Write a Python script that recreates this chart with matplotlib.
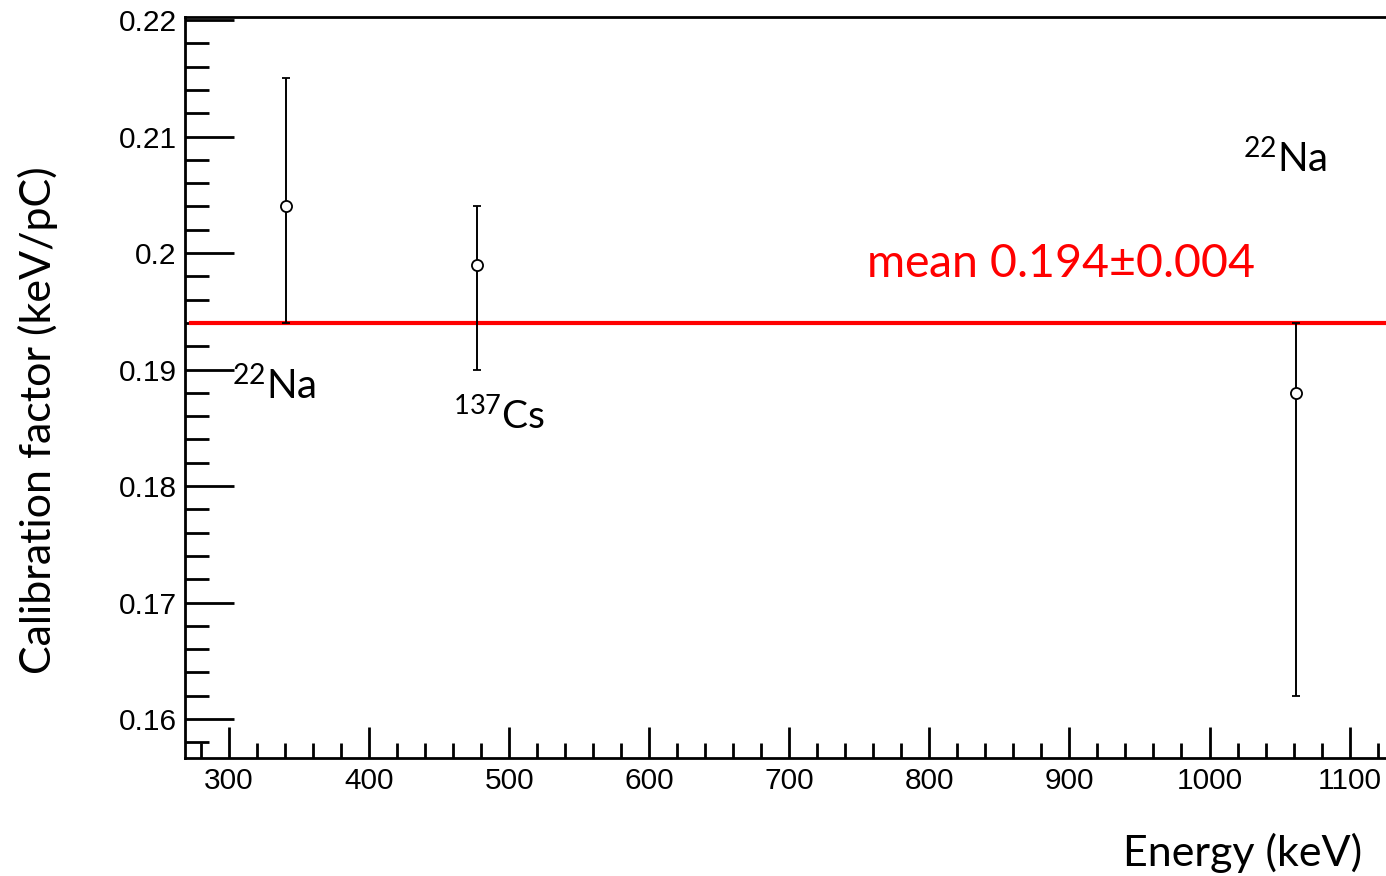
import matplotlib.pyplot as plt
from matplotlib.ticker import MultipleLocator

energy = [341, 477, 1062]
calib = [0.204, 0.199, 0.188]
err_low = [0.010, 0.009, 0.026]
err_high = [0.011, 0.005, 0.006]
mean_val = 0.194
labels = ['$^{22}$Na', '$^{137}$Cs', '$^{22}$Na']

plt.rcParams['mathtext.fontset'] = 'custom'
plt.rcParams['mathtext.rm'] = 'Lato'
plt.rcParams['mathtext.default'] = 'rm'

fig = plt.figure(figsize=(13.86, 8.76), dpi=100)
ax = fig.add_axes([0.1335, 0.135, 0.8665, 0.8456])

ax.errorbar(energy, calib, yerr=[err_low, err_high], fmt='o', color='black',
            mfc='white', mec='black', ms=8, mew=1.3, elinewidth=1.4,
            capsize=3, capthick=1.4, zorder=3)
ax.plot([273, 1126], [mean_val, mean_val], color='red', lw=3, zorder=2)

ax.set_xlim(268.6, 1126)
ax.set_ylim(0.15668, 0.22026)

ax.xaxis.set_major_locator(MultipleLocator(100))
ax.xaxis.set_minor_locator(MultipleLocator(20))
ax.yaxis.set_minor_locator(MultipleLocator(0.002))
ax.set_yticks([0.16, 0.17, 0.18, 0.19, 0.2, 0.21, 0.22])
ax.set_yticklabels(['0.16', '0.17', '0.18', '0.19', '0.2', '0.21', '0.22'])

ax.tick_params(axis='both', which='both', direction='in', width=2)
ax.tick_params(axis='y', which='major', length=35, labelsize=21.5, pad=6)
ax.tick_params(axis='y', which='minor', length=17)
ax.tick_params(axis='x', which='major', length=22, labelsize=21.5, pad=7)
ax.tick_params(axis='x', which='minor', length=11)
for lab in ax.get_xticklabels() + ax.get_yticklabels():
    lab.set_family('Liberation Sans')

ax.spines['right'].set_visible(False)
for s in ['left', 'bottom', 'top']:
    ax.spines[s].set_linewidth(2)

tfont = 'Lato'
ax.text(0.980, -0.128, 'Energy (keV)', transform=ax.transAxes, ha='right',
        va='center', fontsize=31, family=tfont)
fig.text(0.027, 0.5205, 'Calibration factor (keV/pC)', rotation=90,
         ha='center', va='center', fontsize=31, family=tfont)

ax.text(755, 0.1991, 'mean 0.194$\\pm$0.004', color='red', fontsize=33.5,
        family=tfont, ha='left', va='center')
ax.text(302, 0.1886, labels[0], fontsize=29, family=tfont, ha='left', va='center')
ax.text(460, 0.1860, labels[1], fontsize=28, family=tfont, ha='left', va='center')
ax.text(1024, 0.2081, labels[2], fontsize=29, family=tfont, ha='left', va='center')

fig.savefig('out.png', dpi=100)
